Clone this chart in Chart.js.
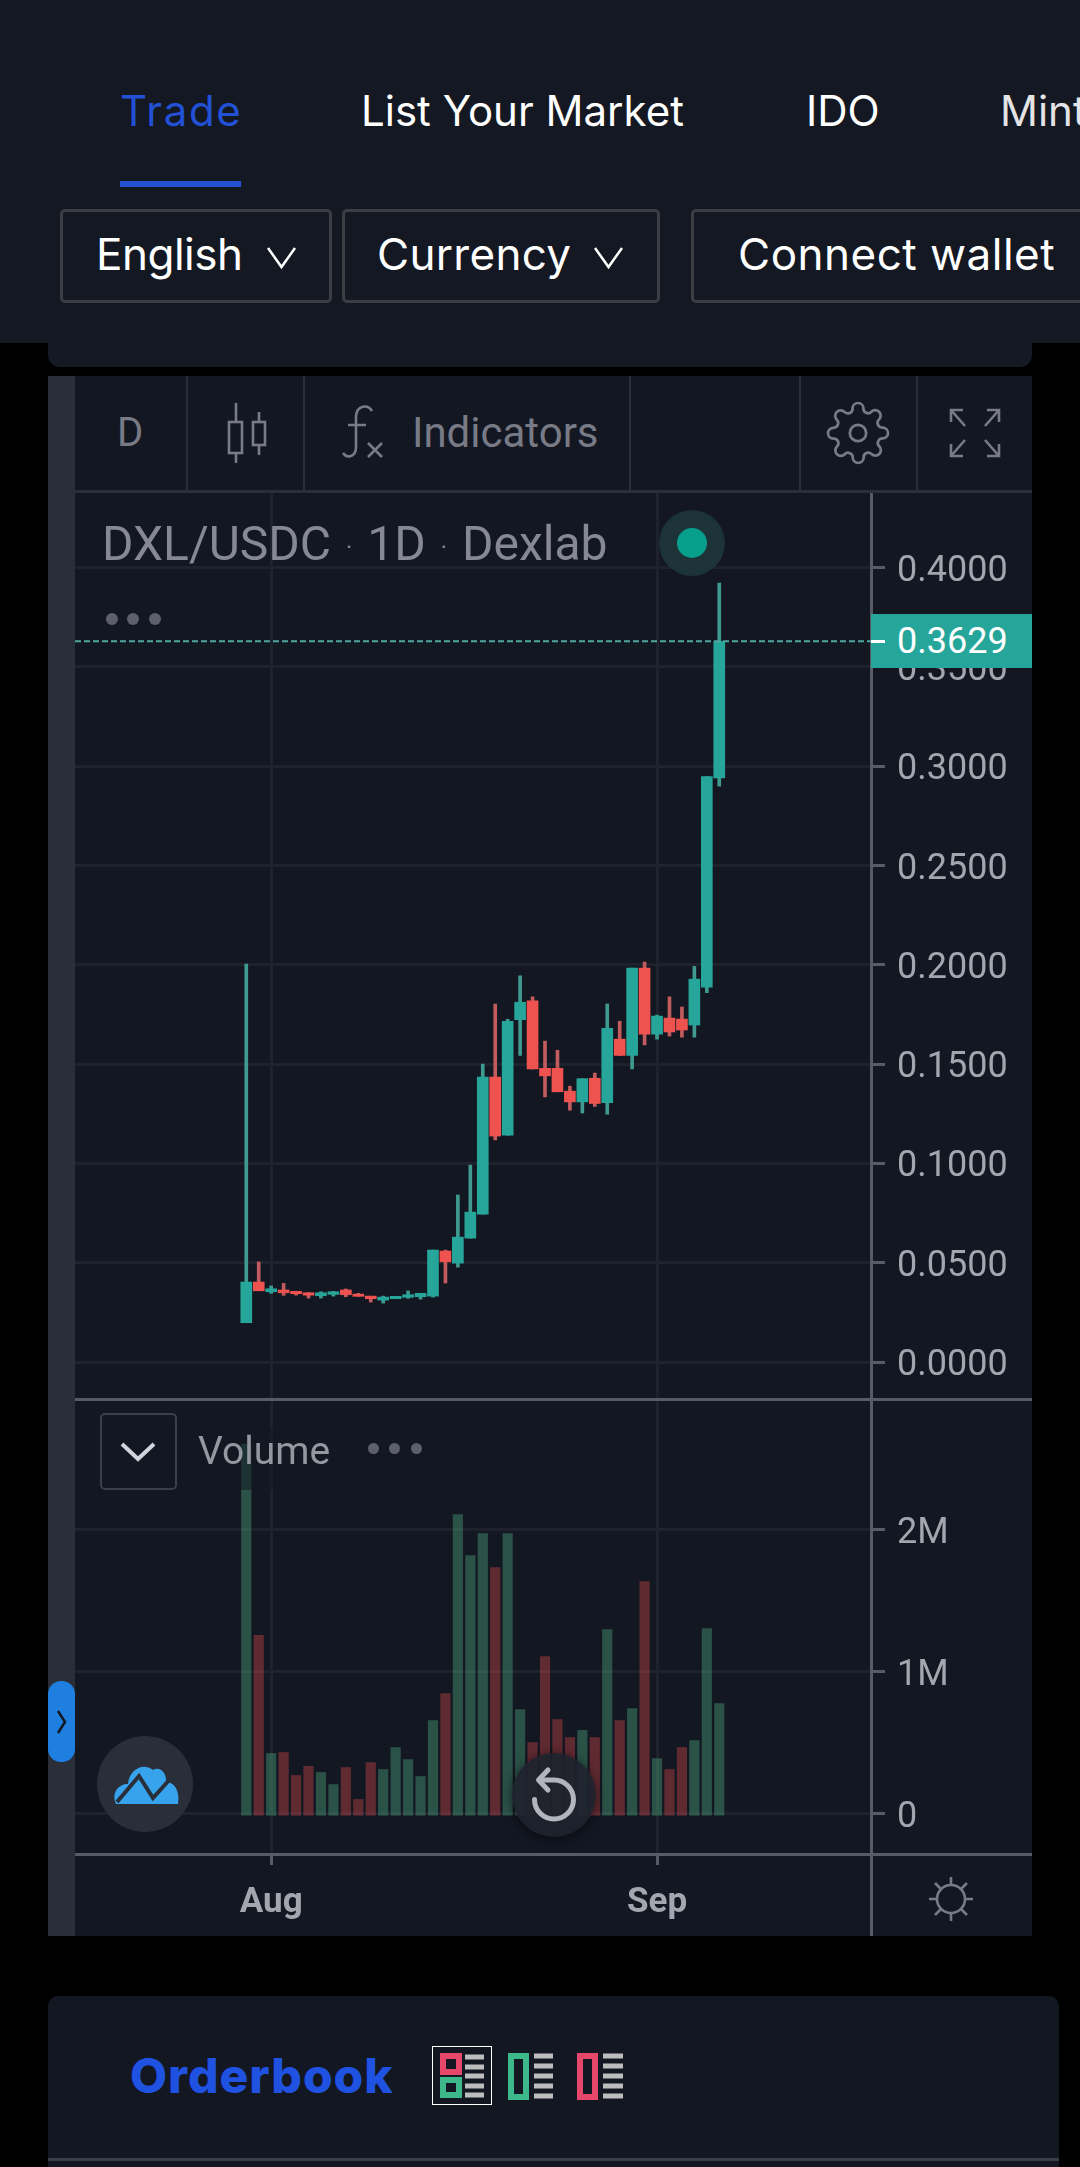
<!DOCTYPE html>
<html>
<head>
<meta charset="utf-8">
<title>DXL/USDC</title>
<script src="https://cdn.jsdelivr.net/npm/chart.js@4"></script>
<style>
html, body { margin: 0; padding: 0; background: #000; }
#page { position: relative; width: 1080px; height: 2167px; overflow: hidden; background: #000; }
.box { position: absolute; }
.t { position: absolute; white-space: nowrap; font-family: Roboto, sans-serif; }
.nav { font-family: Inter, sans-serif; font-size: 42px; line-height: 50px; color: #fff; top: 86px; }
.btn { position: absolute; top: 209px; height: 94px; box-sizing: border-box; border: 3px solid #3c3e44; border-radius: 5px; }
.btnt { font-family: Inter, sans-serif; font-size: 44px; line-height: 60px; color: #fff; top: 224px; }
.sep { position: absolute; background: #2a2e39; }
.grey { position: absolute; background: #585b66; }
.dot { position: absolute; border-radius: 50%; background: #5d606b; }
canvas { position: absolute; display: block; }
svg { position: absolute; overflow: visible; }
</style>
</head>
<body>
<div id="page">
  <!-- top nav -->
  <div class="box" style="left:48px;top:330px;width:984px;height:37px;background:#151924;border-radius:0 0 12px 12px"></div>
  <div class="box" style="left:0;top:0;width:1080px;height:343px;background:#141822"></div>
  <div class="t nav" style="left:120px;color:#2251d6;letter-spacing:1.6px">Trade</div>
  <div class="box" style="left:120px;top:181px;width:121px;height:6px;background:#2251d6"></div>
  <div class="t nav" style="left:361px">List Your Market</div>
  <div class="t nav" style="left:806px">IDO</div>
  <div class="t nav" style="left:1000px;color:#e4e4e6">Mint</div>
  <div class="btn" style="left:60px;width:272px"></div>
  <div class="btn" style="left:342px;width:318px"></div>
  <div class="btn" style="left:691px;width:500px"></div>
  <div class="t btnt" style="left:96px;letter-spacing:-.5px">English</div>
  <div class="t btnt" style="left:377px;letter-spacing:.3px">Currency</div>
  <div class="t btnt" style="left:738px;letter-spacing:.5px">Connect wallet</div>
  <svg style="left:267px;top:247px" width="30" height="22"><path d="M1 1 L14.5 20 L28 1" fill="none" stroke="#fff" stroke-width="2.5"/></svg>
  <svg style="left:594px;top:247px" width="30" height="22"><path d="M1 1 L14.5 20 L28 1" fill="none" stroke="#fff" stroke-width="2.5"/></svg>

  <!-- chart widget -->
  <div class="box" style="left:48px;top:376px;width:984px;height:1560px;background:#131722"></div>
  <div class="box" style="left:48px;top:376px;width:27px;height:1560px;background:#2a2e39"></div>
  <div class="sep" style="left:75px;top:490px;width:957px;height:3px"></div>
  <div class="sep" style="left:186px;top:376px;width:2px;height:114px"></div>
  <div class="sep" style="left:303px;top:376px;width:2px;height:114px"></div>
  <div class="sep" style="left:629px;top:376px;width:2px;height:114px"></div>
  <div class="sep" style="left:799px;top:376px;width:2px;height:114px"></div>
  <div class="sep" style="left:916px;top:376px;width:2px;height:114px"></div>
  <div class="t" style="left:117px;top:408px;font-size:40px;line-height:50px;color:#787b86">D</div>
  <svg style="left:225px;top:403px" width="46" height="60" fill="none" stroke="#787b86" stroke-width="2.6">
    <path d="M11 0 V60 M34 9 V52"/><rect x="4" y="19" width="13" height="31" fill="#131722"/><rect x="28" y="19" width="12" height="23" fill="#131722"/>
  </svg>
  <svg style="left:342px;top:405px" width="42" height="54" fill="none" stroke="#787b86" stroke-width="2.6">
    <path d="M30 6 C26 -1 15 0 14 11 L14 42 C14 52 5 54 1 48 M6 20 H24 M26 38 L40 52 M40 38 L26 52"/>
  </svg>
  <div class="t" style="left:412px;top:408px;font-size:42px;line-height:50px;color:#787b86">Indicators</div>
  <svg style="left:828px;top:403px" width="60" height="60" viewBox="1 1 22 22" fill="none" stroke="#787b86" stroke-width="1">
    <circle cx="12" cy="12" r="3"/>
    <path d="M19.4 15a1.65 1.65 0 0 0 .33 1.82l.06.06a2 2 0 0 1 0 2.83 2 2 0 0 1-2.83 0l-.06-.06a1.65 1.65 0 0 0-1.82-.33 1.65 1.65 0 0 0-1 1.51V21a2 2 0 0 1-2 2 2 2 0 0 1-2-2v-.09A1.65 1.65 0 0 0 9 19.4a1.65 1.65 0 0 0-1.82.33l-.06.06a2 2 0 0 1-2.83 0 2 2 0 0 1 0-2.83l.06-.06a1.65 1.65 0 0 0 .33-1.82 1.65 1.65 0 0 0-1.51-1H3a2 2 0 0 1-2-2 2 2 0 0 1 2-2h.09A1.65 1.65 0 0 0 4.6 9a1.65 1.65 0 0 0-.33-1.82l-.06-.06a2 2 0 0 1 0-2.83 2 2 0 0 1 2.83 0l.06.06a1.65 1.65 0 0 0 1.82.33H9a1.65 1.65 0 0 0 1-1.51V3a2 2 0 0 1 2-2 2 2 0 0 1 2 2v.09a1.65 1.65 0 0 0 1 1.51 1.65 1.65 0 0 0 1.82-.33l.06-.06a2 2 0 0 1 2.83 0 2 2 0 0 1 0 2.83l-.06.06a1.65 1.65 0 0 0-.33 1.82V9a1.65 1.65 0 0 0 1.51 1H21a2 2 0 0 1 2 2 2 2 0 0 1-2 2h-.09a1.65 1.65 0 0 0-1.51 1z"/>
  </svg>
  <svg style="left:950px;top:409px" width="50" height="48" fill="none" stroke="#787b86" stroke-width="2.6">
    <path d="M1 13 V1 H13 M1 1 L15 17 M49 13 V1 H37 M49 1 L35 17 M1 35 V47 H13 M1 47 L15 31 M49 35 V47 H37 M49 47 L35 31"/>
  </svg>

  <canvas id="priceChart" style="left:75px;top:493px" width="957" height="906"></canvas>
  <canvas id="volumeChart" style="left:75px;top:1400px" width="957" height="536"></canvas>

  <!-- pane separators -->
  <div class="grey" style="left:75px;top:1398px;width:957px;height:3px"></div>
  <div class="grey" style="left:75px;top:1853px;width:957px;height:3px"></div>
  <div class="grey" style="left:870px;top:1853px;width:3px;height:83px"></div>

  <!-- price legend -->
  <div class="t" style="left:102px;top:518px;font-size:48px;line-height:52px;color:#868993">DXL/USDC<span style="font-size:24px;vertical-align:5px;margin:0 9px"> · </span>1D<span style="font-size:24px;vertical-align:5px;margin:0 9px"> · </span>Dexlab</div>
  <div class="dot" style="left:659px;top:510px;width:66px;height:66px;background:#1c3338"></div>
  <div class="dot" style="left:677px;top:528px;width:30px;height:30px;background:#089e8c"></div>
  <div class="dot" style="left:106px;top:613px;width:12px;height:12px"></div>
  <div class="dot" style="left:127px;top:613px;width:12px;height:12px"></div>
  <div class="dot" style="left:149px;top:613px;width:12px;height:12px"></div>

  <!-- last price label -->
  <div class="box" style="left:871px;top:614px;width:161px;height:54px;background:#26a69a"></div>
  <div class="box" style="left:871px;top:640px;width:14px;height:3px;background:#fff"></div>
  <div class="t" style="left:897px;top:614px;font-size:36px;line-height:54px;color:#fff">0.3629</div>

  <!-- volume legend -->
  <div class="box" style="left:195px;top:1428px;width:240px;height:62px;background:rgba(19,23,34,.55)"></div>
  <div class="box" style="left:100px;top:1413px;width:77px;height:77px;box-sizing:border-box;border:2px solid #3b3f49;border-radius:5px"></div>
  <svg style="left:120px;top:1442px" width="36" height="20"><path d="M2 2 L18 17 L34 2" fill="none" stroke="#d1d4dc" stroke-width="4"/></svg>
  <div class="t" style="left:198px;top:1428px;font-size:39px;line-height:46px;color:#9598a1">Volume</div>
  <div class="dot" style="left:368px;top:1443px;width:11px;height:11px"></div>
  <div class="dot" style="left:389px;top:1443px;width:11px;height:11px"></div>
  <div class="dot" style="left:411px;top:1443px;width:11px;height:11px"></div>

  <!-- side handle and floating buttons -->
  <div class="box" style="left:48px;top:1681px;width:27px;height:81px;background:#1e7fe0;border-radius:13px"></div>
  <svg style="left:56px;top:1710px" width="12" height="24"><path d="M2 1 L9 12 L2 23" fill="none" stroke="#131722" stroke-width="2.5"/></svg>
  <div class="dot" style="left:97px;top:1736px;width:96px;height:96px;background:#2a2e39"></div>
  <svg style="left:113px;top:1762px" width="66" height="44">
    <path d="M3 42 C-2 30 6 22 15 22 C16 8 30 0 40 8 C46 4 54 10 53 20 C62 20 67 30 65 42 Z" fill="#36a3ec"/>
    <path d="M4 40 L26 14 L40 36 L58 16" fill="none" stroke="#2a2e39" stroke-width="4"/>
  </svg>
  <div class="dot" style="left:512px;top:1753px;width:84px;height:84px;background:rgba(30,34,45,.93);box-shadow:0 2px 12px rgba(0,0,0,.6)"></div>
  <svg style="left:530px;top:1765px" width="48" height="56" fill="none" stroke="#b2b5be" stroke-width="5" stroke-linecap="round" stroke-linejoin="round">
    <path d="M10 15 H24 A19.5 19.5 0 1 1 4.5 34.5"/><path d="M18 5 L8.5 15 L18 25"/>
  </svg>

  <!-- time axis sun -->
  <svg style="left:929px;top:1876px" width="44" height="46" fill="none" stroke="#787b86" stroke-width="2.6">
    <circle cx="22" cy="23" r="14"/>
    <path d="M22 1 V9 M22 37 V45 M0 23 H8 M36 23 H44 M6 7 L12 13 M38 7 L32 13 M6 39 L12 33 M38 39 L32 33"/>
  </svg>

  <!-- orderbook card -->
  <div class="box" style="left:48px;top:1996px;width:1011px;height:171px;background:#131722;border-radius:10px 10px 0 0"></div>
  <div class="box" style="left:48px;top:2158px;width:1011px;height:3px;background:#3a3e4a"></div>
  <div class="t" style="left:130px;top:2046px;font-family:Inter,sans-serif;font-weight:800;font-size:48px;line-height:60px;color:#1f52e0;letter-spacing:1px">Orderbook</div>
  <div class="box" style="left:432px;top:2046px;width:60px;height:59px;box-sizing:border-box;border:1.5px solid #fff"></div>
  <svg style="left:432px;top:2046px" width="200" height="60" fill="none">
    <rect x="11" y="10" width="16" height="16" stroke="#e5466a" stroke-width="6"/>
    <rect x="11" y="34" width="16" height="15" stroke="#3cb88a" stroke-width="6"/>
    <path d="M33 11 H52 M33 21 H52 M33 30 H52 M33 40 H52 M33 49 H52" stroke="#bdbdbd" stroke-width="5"/>
    <rect x="79" y="10" width="15" height="41" stroke="#3cb88a" stroke-width="6"/>
    <path d="M102 10 H121 M102 20 H121 M102 30 H121 M102 40 H121 M102 50 H121" stroke="#bdbdbd" stroke-width="5"/>
    <rect x="148" y="10" width="15" height="41" stroke="#e5466a" stroke-width="6"/>
    <path d="M171 10 H191 M171 20 H191 M171 30 H191 M171 40 H191 M171 50 H191" stroke="#bdbdbd" stroke-width="5"/>
  </svg>
</div>

<script>
// DXL/USDC daily candles
const dates = ["Jul 30", "Jul 31", "Aug 1", "Aug 2", "Aug 3", "Aug 4", "Aug 5", "Aug 6", "Aug 7", "Aug 8",
    "Aug 9", "Aug 10", "Aug 11", "Aug 12", "Aug 13", "Aug 14", "Aug 15", "Aug 16", "Aug 17", "Aug 18",
    "Aug 19", "Aug 20", "Aug 21", "Aug 22", "Aug 23", "Aug 24", "Aug 25", "Aug 26", "Aug 27", "Aug 28",
    "Aug 29", "Aug 30", "Aug 31", "Sep 1", "Sep 2", "Sep 3", "Sep 4", "Sep 5", "Sep 6"];

const opens = [.0198, .0403, .0354, .0363, .0356, .0349, .0334, .0341, .0363, .0342,
    .0332, .0312, .0319, .0326, .0329, .0332, .0559, .0498, .0624, .0745,
    .1435, .1142, .1724, .1819, .1479, .1479, .1364, .1310, .1429, .1306,
    .1626, .1544, .1984, .1651, .1732, .1727, .1697, .1888, .2941];
const closes = [.0403, .0359, .0369, .0349, .0344, .0337, .0349, .0354, .0339, .0331,
    .0319, .0327, .0331, .0339, .0346, .0564, .0505, .0629, .0755, .1435,
    .1138, .1716, .1812, .1476, .1441, .1361, .1310, .1427, .1302, .1681,
    .1544, .1984, .1651, .1742, .1662, .1672, .1928, .2948, .3629];
const highs = [.2004, .0504, .0383, .0396, .0356, .0349, .0354, .0356, .0368, .0346,
    .0332, .0332, .0331, .0358, .0346, .0564, .0564, .0841, .0992, .1500,
    .1803, .1726, .1945, .1839, .1616, .1570, .1389, .1427, .1455, .1803,
    .1716, .1984, .2014, .1747, .1839, .1788, .1992, .2948, .3923];
const lows = [.0198, .0359, .0346, .0336, .0337, .0322, .0322, .0332, .0329, .0331,
    .0302, .0297, .0319, .0321, .0317, .0327, .0398, .0478, .0624, .0745,
    .1118, .1142, .1544, .1476, .1335, .1361, .1268, .1254, .1287, .1248,
    .1544, .1476, .1597, .1626, .1641, .1636, .1636, .1860, .2900];
const volumes = [2600000, 1254000, 423000, 430000, 268000, 333000, 289000, 204000, 324000, 99000,
    359000, 310000, 465000, 380000, 261000, 655000, 845000, 2106000, 1817000, 1972000,
    1732000, 1972000, 732000, 500000, 1106000, 662000, 535000, 585000, 535000, 1296000,
    655000, 739000, 1634000, 387000, 310000, 465000, 514000, 1303000, 775000];

const lastPrice = 0.3629;
const priceTicks = [0, 0.05, 0.1, 0.15, 0.2, 0.25, 0.3, 0.35, 0.4];
const volumeTicks = [0, 1000000, 2000000];
const monthTicks = { "Aug 1": "Aug", "Sep 1": "Sep" };

const upColor = "#26a69a";
const downColor = "#ef5350";
const upWick = "#3f9a90";
const downWick = "#c25b5d";
const upVolume = "rgba(83,185,135,0.37)";
const downVolume = "rgba(255,82,82,0.33)";
const gridColor = "#1e222d";
const axisColor = "#585b66";
const labelColor = "#a3a6af";

// both panes share the same day window so Aug and Sep line up
const xMin = -13.76;
const xMax = 50.19;

function isUp(i) {
    return closes[i] >= opens[i];
}

// no auto padding, the panes have to sit exactly on the page
function noPadding(scale) {
    scale.paddingTop = 0;
    scale.paddingBottom = 0;
    scale.paddingLeft = 0;
    scale.paddingRight = 0;
}

function dayScale(height, extra) {
    return Object.assign({
        type: "linear",
        offset: false,
        min: xMin,
        max: xMax,
        afterBuildTicks: scale => {
            scale.ticks = dates.map((d, i) => ({ value: i, d })).filter(t => monthTicks[t.d]).map(t => ({ value: t.value }));
        },
        afterFit: scale => { scale.height = height; noPadding(scale); },
        grid: { offset: false, color: gridColor, lineWidth: 3, tickColor: axisColor, tickLength: 11 },
        border: { display: false }
    }, extra);
}

function valueScale(min, max, tickValues, format) {
    return {
        position: "right",
        min: min,
        max: max,
        afterBuildTicks: scale => { scale.ticks = tickValues.map(v => ({ value: v })); },
        afterFit: scale => { scale.width = 161; noPadding(scale); },
        border: { color: axisColor, width: 3 },
        grid: { color: gridColor, lineWidth: 3, tickColor: axisColor, tickLength: 14 },
        ticks: {
            padding: 12,
            labelOffset: 4,
            color: labelColor,
            font: { family: "Roboto", size: 36 },
            callback: format
        }
    };
}

Chart.defaults.animation = false;

new Chart(document.getElementById("priceChart"), {
    type: "bar",
    data: {
        datasets: [
            {
                type: "line",
                data: [{ x: xMin, y: lastPrice }, { x: xMax, y: lastPrice }],
                borderColor: "#4fa89e",
                borderWidth: 2,
                borderDash: [6, 3],
                pointRadius: 0,
                order: 0
            },
            {
                data: dates.map((d, i) => ({ x: i, y: [opens[i], closes[i]] })),
                backgroundColor: dates.map((d, i) => isUp(i) ? upColor : downColor),
                barThickness: 11,
                grouped: false,
                order: 1
            },
            {
                data: dates.map((d, i) => ({ x: i, y: [lows[i], highs[i]] })),
                backgroundColor: dates.map((d, i) => isUp(i) ? upWick : downWick),
                barThickness: 3,
                grouped: false,
                order: 2
            }
        ]
    },
    options: {
        responsive: false,
        layout: { padding: 0 },
        plugins: { legend: { display: false }, tooltip: { enabled: false } },
        scales: {
            x: dayScale(0, {
                ticks: { display: false },
                grid: { offset: false, color: gridColor, lineWidth: 3, drawTicks: false }
            }),
            y: valueScale(-0.0186, 0.4376, priceTicks, v => v.toFixed(4))
        }
    }
});

new Chart(document.getElementById("volumeChart"), {
    type: "bar",
    data: {
        datasets: [{
            data: dates.map((d, i) => ({ x: i, y: volumes[i] })),
            backgroundColor: dates.map((d, i) => isUp(i) ? upVolume : downVolume),
            barThickness: 9.5,
            base: -12000
        }]
    },
    options: {
        responsive: false,
        layout: { padding: 0 },
        plugins: { legend: { display: false }, tooltip: { enabled: false } },
        scales: {
            x: dayScale(82, {
                ticks: {
                    maxRotation: 0,
                    autoSkip: false,
                    padding: 17,
                    color: labelColor,
                    font: { family: "Roboto", size: 35, weight: "bold" },
                    callback: v => monthTicks[dates[v]]
                }
            }),
            y: valueScale(-285000, 2912000, volumeTicks, v => v === 0 ? "0" : (v / 1000000) + "M")
        }
    }
});
</script>
</body>
</html>
